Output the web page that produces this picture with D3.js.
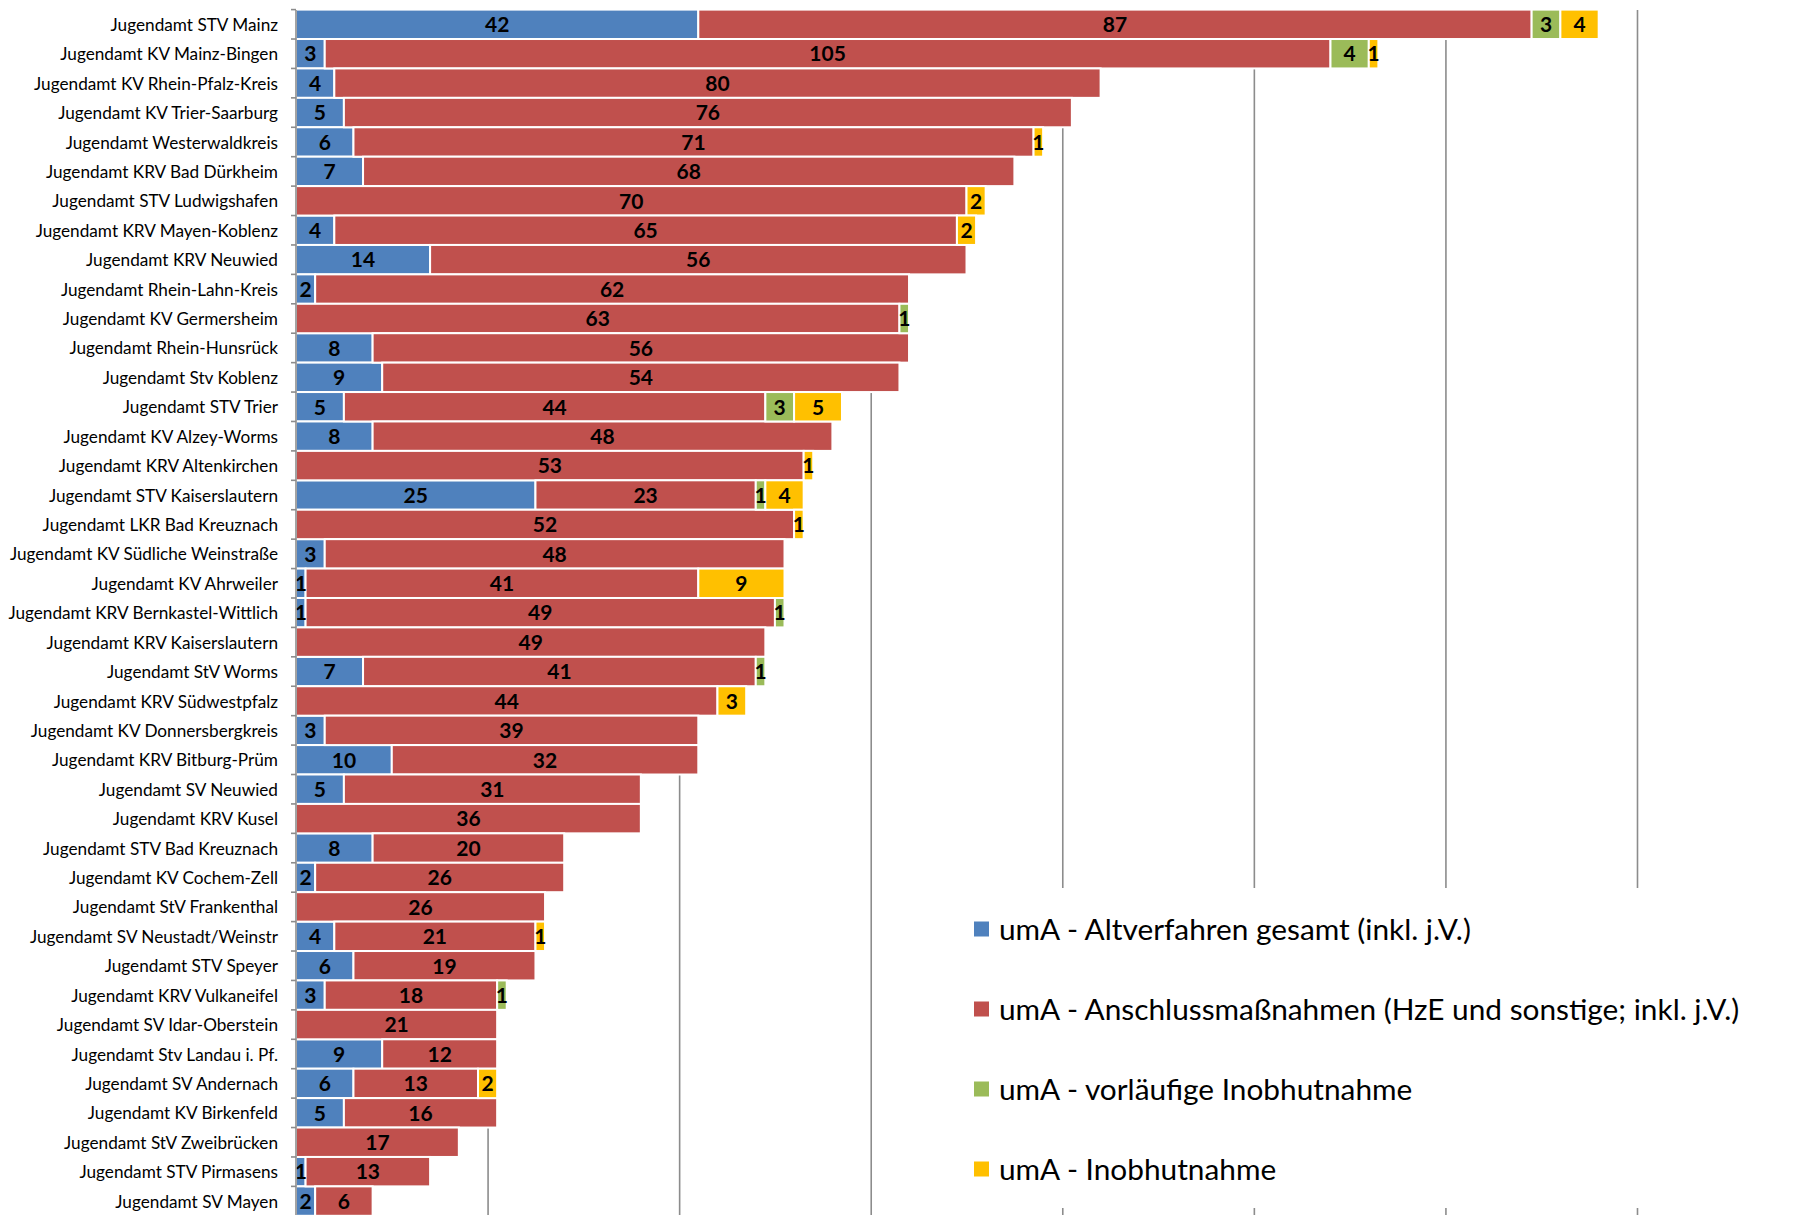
<!DOCTYPE html>
<html>
<head>
<meta charset="utf-8">
<script src="https://cdn.jsdelivr.net/npm/d3@7"></script>
<style>
  html, body { margin: 0; padding: 0; background: #fff; }
  svg { display: block; }
</style>
</head>
<body>
<svg id="chart" width="1818" height="1215"></svg>
<script>
const categories = [
  "Jugendamt STV Mainz", "Jugendamt KV Mainz-Bingen", "Jugendamt KV Rhein-Pfalz-Kreis",
  "Jugendamt KV Trier-Saarburg", "Jugendamt Westerwaldkreis", "Jugendamt KRV Bad Dürkheim",
  "Jugendamt STV Ludwigshafen", "Jugendamt KRV Mayen-Koblenz", "Jugendamt KRV Neuwied",
  "Jugendamt Rhein-Lahn-Kreis", "Jugendamt KV Germersheim", "Jugendamt Rhein-Hunsrück",
  "Jugendamt Stv Koblenz", "Jugendamt STV Trier", "Jugendamt KV Alzey-Worms",
  "Jugendamt KRV Altenkirchen", "Jugendamt STV Kaiserslautern", "Jugendamt LKR Bad Kreuznach",
  "Jugendamt KV Südliche Weinstraße", "Jugendamt KV Ahrweiler", "Jugendamt KRV Bernkastel-Wittlich",
  "Jugendamt KRV Kaiserslautern", "Jugendamt StV Worms", "Jugendamt KRV Südwestpfalz",
  "Jugendamt KV Donnersbergkreis", "Jugendamt KRV Bitburg-Prüm", "Jugendamt SV Neuwied",
  "Jugendamt KRV Kusel", "Jugendamt STV Bad Kreuznach", "Jugendamt KV Cochem-Zell",
  "Jugendamt StV Frankenthal", "Jugendamt SV Neustadt/Weinstr", "Jugendamt STV Speyer",
  "Jugendamt KRV Vulkaneifel", "Jugendamt SV Idar-Oberstein", "Jugendamt Stv Landau i. Pf.",
  "Jugendamt SV Andernach", "Jugendamt KV Birkenfeld", "Jugendamt StV Zweibrücken",
  "Jugendamt STV Pirmasens", "Jugendamt SV Mayen"
];
const altverfahren = [42,3,4,5,6,7,0,4,14,2,0,8,9,5,8,0,25,0,3,1,1,0,7,0,3,10,5,0,8,2,0,4,6,3,0,9,6,5,0,1,2];
const anschluss    = [87,105,80,76,71,68,70,65,56,62,63,56,54,44,48,53,23,52,48,41,49,49,41,44,39,32,31,36,20,26,26,21,19,18,21,12,13,16,17,13,6];
const vorlaeufig   = [3,4,0,0,0,0,0,0,0,0,1,0,0,3,0,0,1,0,0,0,1,0,1,0,0,0,0,0,0,0,0,0,0,1,0,0,0,0,0,0,0];
const inobhut      = [4,1,0,0,1,0,2,2,0,0,0,0,0,5,0,1,4,1,0,9,0,0,0,3,0,0,0,0,0,0,0,1,0,0,0,0,2,0,0,0,0];
const seriesNames = [
  "umA - Altverfahren gesamt (inkl. j.V.)",
  "umA - Anschlussmaßnahmen (HzE und sonstige; inkl. j.V.)",
  "umA - vorläufige Inobhutnahme",
  "umA - Inobhutnahme"
];
const seriesColors = ["#4F81BD", "#C0504D", "#9BBB59", "#FFC000"];
const gridTicks = [20, 40, 60, 80, 100, 120, 140];

const keys = ["alt", "ans", "vor", "ino"];
const table = categories.map((c, i) => ({
  cat: c, alt: altverfahren[i], ans: anschluss[i], vor: vorlaeufig[i], ino: inobhut[i]
}));

const svg = d3.select("#chart");
const FONT = "Lato, 'Open Sans', sans-serif";
const plotTop = 10, plotBottom = 1216;

const x = d3.scaleLinear().domain([0, 140]).range([296, 1637]);
const y = d3.scaleBand().domain(categories).range([9.6, 1215.8]).padding(0);

// gridlines
const grid = svg.append("g")
  .attr("transform", `translate(0,${plotTop})`)
  .call(d3.axisTop(x).tickValues(gridTicks).tickSize(-(plotBottom - plotTop)).tickFormat(""));
grid.select(".domain").remove();
grid.selectAll(".tick line").attr("stroke", "#8c8c8c").attr("stroke-width", 1.6);

// stacked bars
const stack = d3.stack().keys(keys);
const stacked = stack(table);

const layers = svg.append("g").selectAll("g")
  .data(stacked).join("g")
  .attr("fill", (d, i) => seriesColors[i]);

layers.selectAll("rect")
  .data(d => d.filter(s => s[1] - s[0] > 0))
  .join("rect")
  .attr("x", d => x(d[0]))
  .attr("y", d => y(d.data.cat))
  .attr("width", d => x(d[1]) - x(d[0]))
  .attr("height", y.bandwidth())
  .attr("stroke", "#fff")
  .attr("stroke-width", 2);

// value labels
const labelG = svg.append("g");
stacked.forEach(layer => {
  layer.forEach(s => {
    const v = s[1] - s[0];
    if (v > 0) {
      labelG.append("text")
        .attr("x", (x(s[0]) + x(s[1])) / 2)
        .attr("y", y(s.data.cat) + y.bandwidth() / 2)
        .attr("dy", "0.37em")
        .attr("text-anchor", "middle")
        .attr("font-family", FONT)
        .attr("font-weight", "bold")
        .attr("font-size", 21)
        .attr("fill", "#000")
        .text(v);
    }
  });
});

// left axis with category labels
const yAxis = svg.append("g")
  .attr("transform", `translate(${x(0)},0)`)
  .call(d3.axisLeft(y).tickSize(0).tickPadding(18));
yAxis.select(".domain").remove();
yAxis.selectAll(".tick text")
  .attr("font-family", FONT)
  .attr("font-size", 17.2)
  .attr("dy", "0.38em")
  .attr("fill", "#000");

// axis line + boundary ticks
const bounds = categories.map(c => y(c)).concat([y.range()[1]]);
svg.append("line")
  .attr("x1", x(0)).attr("x2", x(0))
  .attr("y1", plotTop).attr("y2", plotBottom)
  .attr("stroke", "#8c8c8c").attr("stroke-width", 1.6);
svg.append("g").selectAll("line")
  .data(bounds).join("line")
  .attr("x1", x(0) - 5).attr("x2", x(0))
  .attr("y1", d => d).attr("y2", d => d)
  .attr("stroke", "#8c8c8c").attr("stroke-width", 1.6);

// legend
svg.append("rect")
  .attr("x", 962).attr("y", 888).attr("width", 820).attr("height", 320)
  .attr("fill", "#fff");
const legend = svg.append("g");
seriesNames.forEach((name, i) => {
  const cy = 929 + i * 80;
  legend.append("rect")
    .attr("x", 974).attr("y", cy - 7.5).attr("width", 15).attr("height", 15)
    .attr("fill", seriesColors[i]);
  legend.append("text")
    .attr("x", 999).attr("y", cy).attr("dy", "0.36em")
    .attr("font-family", FONT).attr("font-size", 29.8).attr("fill", "#000")
    .text(name);
});
</script>
</body>
</html>
